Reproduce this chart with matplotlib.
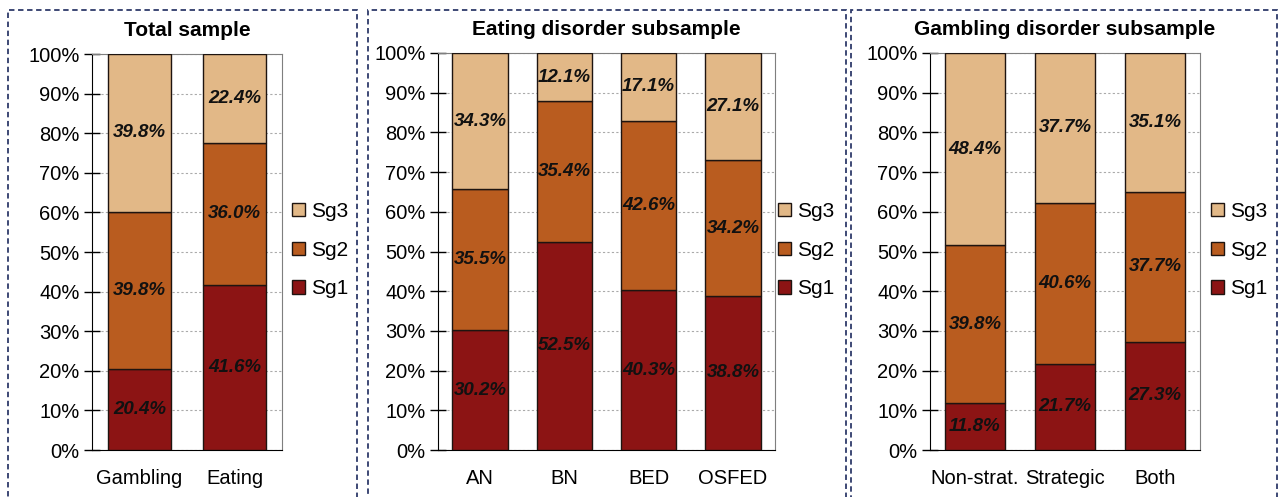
import matplotlib
matplotlib.use("Agg")
import matplotlib.pyplot as plt
from matplotlib.patches import Rectangle
import numpy as np

plt.rcParams['font.family'] = ['Liberation Sans', 'DejaVu Sans']

# data (percent)
total_cats = ["Gambling", "Eating"]
total_sg1 = [20.4, 41.6]
total_sg2 = [39.8, 36.0]
total_sg3 = [39.8, 22.4]

eat_cats = ["AN", "BN", "BED", "OSFED"]
eat_sg1 = [30.2, 52.5, 40.3, 38.8]
eat_sg2 = [35.5, 35.4, 42.6, 34.2]
eat_sg3 = [34.3, 12.1, 17.1, 27.1]

gamb_cats = ["Non-strat.", "Strategic", "Both"]
gamb_sg1 = [11.8, 21.7, 27.3]
gamb_sg2 = [39.8, 40.6, 37.7]
gamb_sg3 = [48.4, 37.7, 35.1]

titles = ["Total sample", "Eating disorder subsample", "Gambling disorder subsample"]
series_names = ["Sg1", "Sg2", "Sg3"]
colors = ["#8C1414", "#B95C1F", "#E2B887"]

W, H = 1278, 497
fig = plt.figure(figsize=(W / 100, H / 100), dpi=100)

# axes boxes in pixels: left, right, top, bottom
boxes = [(92, 282, 54, 450), (438, 775, 53, 450), (930, 1200, 53, 450)]
panels = [(8, 357), (368, 846), (851, 1277)]
legend_x = [292, 778, 1211]

panel_data = [
    (total_cats, [total_sg1, total_sg2, total_sg3]),
    (eat_cats, [eat_sg1, eat_sg2, eat_sg3]),
    (gamb_cats, [gamb_sg1, gamb_sg2, gamb_sg3]),
]

# dashed panel borders
for (pl, pr) in panels:
    r = Rectangle((pl / W, -0.05), (pr - pl) / W, 1.05 - 10 / H,
                  transform=fig.transFigure, fill=False, edgecolor="#2E3A6A",
                  linestyle=(0, (3, 2)), linewidth=1.3)
    fig.patches.append(r)

for i, (cats, vals) in enumerate(panel_data):
    l, r, t, b = boxes[i]
    ax = fig.add_axes([l / W, (H - b) / H, (r - l) / W, (b - t) / H])
    x = np.arange(len(cats))
    bottom = np.zeros(len(cats))
    handles = []
    for k, v in enumerate(vals):
        v = np.array(v)
        bars = ax.bar(x, v, 0.66, bottom=bottom, color=colors[k],
                      edgecolor="#1e1410", linewidth=1.0, zorder=3,
                      label=series_names[k])
        handles.append(bars)
        for xi, bi, vi in zip(x, bottom, v):
            ax.text(xi, bi + vi / 2, f"{vi:.1f}%", ha="center", va="center",
                    fontsize=13.5, fontweight="bold", fontstyle="italic",
                    color="#111111", zorder=4)
        bottom = bottom + v
    ax.set_xlim(-0.5, len(cats) - 0.5)
    ax.set_ylim(0, 100)
    ax.set_yticks(np.arange(0, 101, 10))
    ax.set_yticklabels([f"{v}%" for v in range(0, 101, 10)], fontsize=14.5)
    ax.set_xticks(x)
    ax.set_xticklabels(cats, fontsize=14.5)
    ax.tick_params(axis="x", length=0, pad=14)
    ax.tick_params(axis="y", direction="inout", length=12, width=1, pad=3)
    ax.yaxis.grid(True, linestyle=(0, (2, 2)), color="#aaaaaa", linewidth=0.8, zorder=0)
    ax.set_axisbelow(True)
    ax.spines["left"].set_color("black")
    ax.spines["bottom"].set_color("black")
    ax.spines["top"].set_color("#7f7f7f")
    ax.spines["right"].set_color("#7f7f7f")
    ax.set_title(titles[i], fontsize=15, fontweight="bold", pad=13)
    leg = ax.legend(handles[::-1], series_names[::-1],
                    loc="center left", bbox_to_anchor=(legend_x[i] / W, (H - 250) / H),
                    bbox_transform=fig.transFigure, frameon=False, fontsize=15,
                    handlelength=0.6, handleheight=0.6, handletextpad=0.3,
                    labelspacing=0.95, borderaxespad=0, borderpad=0)

fig.savefig("out.png", dpi=100)
